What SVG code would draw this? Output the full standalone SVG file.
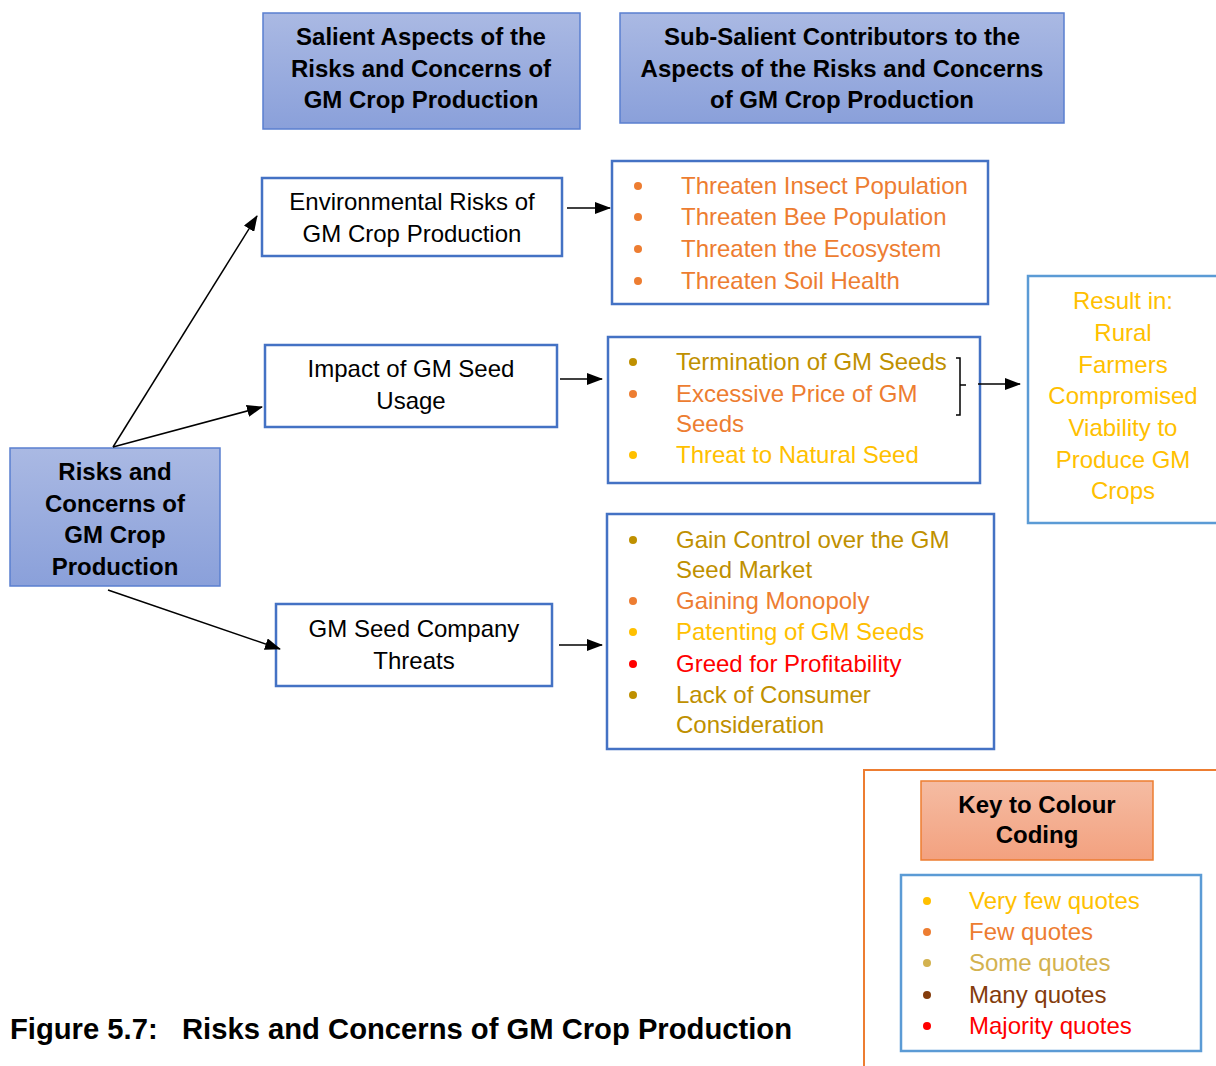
<svg xmlns="http://www.w3.org/2000/svg" width="1216" height="1066" viewBox="0 0 1216 1066">
  <defs>
    <linearGradient id="blueFill" x1="0" y1="0" x2="0" y2="1">
      <stop offset="0" stop-color="#aab9e3"/>
      <stop offset="1" stop-color="#8aa0da"/>
    </linearGradient>
    <linearGradient id="salmonFill" x1="0" y1="0" x2="0" y2="1">
      <stop offset="0" stop-color="#f5bca3"/>
      <stop offset="1" stop-color="#f3a17f"/>
    </linearGradient>
    <marker id="arrow" markerWidth="16" markerHeight="12" refX="15" refY="6" orient="auto" markerUnits="userSpaceOnUse">
      <path d="M0,0 L16,6 L0,12 Z" fill="#000"/>
    </marker>
  </defs>
  <style>
    text { font-family: "Liberation Sans", Arial, sans-serif; font-size: 24px; dominant-baseline: central; }
    .bold { font-weight: bold; }
    .mid { text-anchor: middle; }
    .caption { font-size: 30px; }
    .hdr { fill: url(#blueFill); stroke: #5a7fcf; stroke-width: 1.5; }
    .node { fill: #fff; stroke: #4472c4; stroke-width: 2.5; }
    .light { fill: #fff; stroke: #5b9bd5; stroke-width: 2.5; }
    .conn { stroke: #000; stroke-width: 1.5; fill: none; }
    .gold { fill: #bf9000; }
    .orange { fill: #ed7d31; }
    .yellow { fill: #ffc000; }
    .red { fill: #ff0000; }
    .sand { fill: #d3b24f; }
    .brown { fill: #843c0c; }
  </style>

  <rect width="1216" height="1066" fill="#fff"/>

  <!-- column headers -->
  <g id="header-aspects">
    <rect class="hdr" x="263" y="13" width="317" height="116"/>
    <text class="bold mid" x="421" y="36">Salient Aspects of the</text>
    <text class="bold mid" x="421" y="68">Risks and Concerns of</text>
    <text class="bold mid" x="421" y="99">GM Crop Production</text>
  </g>
  <g id="header-contributors">
    <rect class="hdr" x="620" y="13" width="444" height="110"/>
    <text class="bold mid" x="842" y="36">Sub-Salient Contributors to the</text>
    <text class="bold mid" x="842" y="68">Aspects of the Risks and Concerns</text>
    <text class="bold mid" x="842" y="99">of GM Crop Production</text>
  </g>

  <!-- root node -->
  <g id="risks-root">
    <rect class="hdr" x="10" y="448" width="210" height="138"/>
    <text class="bold mid" x="115" y="471">Risks and</text>
    <text class="bold mid" x="115" y="503">Concerns of</text>
    <text class="bold mid" x="115" y="534">GM Crop</text>
    <text class="bold mid" x="115" y="566">Production</text>
  </g>

  <!-- salient aspects -->
  <g id="environmental-risks">
    <rect class="node" x="262" y="178" width="300" height="78"/>
    <text class="mid" x="412" y="201">Environmental Risks of</text>
    <text class="mid" x="412" y="233">GM Crop Production</text>
  </g>
  <g id="seed-usage">
    <rect class="node" x="265" y="345" width="292" height="82"/>
    <text class="mid" x="411" y="368">Impact of GM Seed</text>
    <text class="mid" x="411" y="400">Usage</text>
  </g>
  <g id="company-threats">
    <rect class="node" x="276" y="604" width="276" height="82"/>
    <text class="mid" x="414" y="628">GM Seed Company</text>
    <text class="mid" x="414" y="660">Threats</text>
  </g>

  <!-- sub-salient contributors -->
  <g id="environmental-list">
    <rect class="node" x="612" y="161" width="376" height="143"/>
    <circle class="orange" cx="638" cy="186" r="4"/>
    <text class="orange" x="681" y="185">Threaten Insect Population</text>
    <circle class="orange" cx="638" cy="217" r="4"/>
    <text class="orange" x="681" y="216">Threaten Bee Population</text>
    <circle class="orange" cx="638" cy="249" r="4"/>
    <text class="orange" x="681" y="248">Threaten the Ecosystem</text>
    <circle class="orange" cx="638" cy="281" r="4"/>
    <text class="orange" x="681" y="280">Threaten Soil Health</text>
  </g>
  <g id="usage-list">
    <rect class="node" x="608" y="337" width="372" height="146"/>
    <circle class="gold" cx="633" cy="362" r="4"/>
    <text class="gold" x="676" y="361">Termination of GM Seeds</text>
    <circle class="orange" cx="633" cy="394" r="4"/>
    <text class="orange" x="676" y="393">Excessive Price of GM</text>
    <text class="orange" x="676" y="423">Seeds</text>
    <circle class="yellow" cx="633" cy="455" r="4"/>
    <text class="yellow" x="676" y="454">Threat to Natural Seed</text>
  </g>
  <g id="company-list">
    <rect class="node" x="607" y="514" width="387" height="235"/>
    <circle class="gold" cx="633" cy="540" r="4"/>
    <text class="gold" x="676" y="539">Gain Control over the GM</text>
    <text class="gold" x="676" y="569">Seed Market</text>
    <circle class="orange" cx="633" cy="601" r="4"/>
    <text class="orange" x="676" y="600">Gaining Monopoly</text>
    <circle class="yellow" cx="633" cy="632" r="4"/>
    <text class="yellow" x="676" y="631">Patenting of GM Seeds</text>
    <circle class="red" cx="633" cy="664" r="4"/>
    <text class="red" x="676" y="663">Greed for Profitability</text>
    <circle class="gold" cx="633" cy="695" r="4"/>
    <text class="gold" x="676" y="694">Lack of Consumer</text>
    <text class="gold" x="676" y="724">Consideration</text>
  </g>

  <!-- outcome -->
  <g id="result">
    <rect class="light" x="1028" y="276" width="200" height="247"/>
    <text class="yellow mid" x="1123" y="300">Result in:</text>
    <text class="yellow mid" x="1123" y="332">Rural</text>
    <text class="yellow mid" x="1123" y="364">Farmers</text>
    <text class="yellow mid" x="1123" y="395">Compromised</text>
    <text class="yellow mid" x="1123" y="427">Viability to</text>
    <text class="yellow mid" x="1123" y="459">Produce GM</text>
    <text class="yellow mid" x="1123" y="490">Crops</text>
  </g>

  <!-- connectors -->
  <g id="connectors">
    <line class="conn" x1="113" y1="447" x2="257" y2="216" marker-end="url(#arrow)"/>
    <line class="conn" x1="113" y1="447" x2="262" y2="407" marker-end="url(#arrow)"/>
    <line class="conn" x1="108" y1="590" x2="280" y2="649" marker-end="url(#arrow)"/>
    <line class="conn" x1="567" y1="208" x2="610" y2="208" marker-end="url(#arrow)"/>
    <line class="conn" x1="560" y1="379" x2="602" y2="379" marker-end="url(#arrow)"/>
    <line class="conn" x1="559" y1="645" x2="602" y2="645" marker-end="url(#arrow)"/>
    <path class="conn" d="M956,358 H960 V415 H956 M960,385 H966" stroke-width="1.2"/>
    <line class="conn" x1="978" y1="384" x2="1020" y2="384" marker-end="url(#arrow)"/>
  </g>

  <!-- colour key -->
  <g id="colour-key">
    <path d="M864,1066 V770 H1216" fill="none" stroke="#ed7d31" stroke-width="2"/>
    <rect x="921" y="781" width="232" height="79" fill="url(#salmonFill)" stroke="#ed7d31" stroke-width="1.5"/>
    <text class="bold mid" x="1037" y="804">Key to Colour</text>
    <text class="bold mid" x="1037" y="834">Coding</text>
    <rect class="light" x="901" y="875" width="300" height="176"/>
    <circle class="yellow" cx="927" cy="901" r="4"/>
    <text class="yellow" x="969" y="900">Very few quotes</text>
    <circle class="orange" cx="927" cy="932" r="4"/>
    <text class="orange" x="969" y="931">Few quotes</text>
    <circle class="sand" cx="927" cy="963" r="4"/>
    <text class="sand" x="969" y="962">Some quotes</text>
    <circle class="brown" cx="927" cy="995" r="4"/>
    <text class="brown" x="969" y="994">Many quotes</text>
    <circle class="red" cx="927" cy="1026" r="4"/>
    <text class="red" x="969" y="1025">Majority quotes</text>
  </g>

  <!-- caption -->
  <text class="bold caption" x="10" y="1028" textLength="782" lengthAdjust="spacingAndGlyphs" xml:space="preserve">Figure 5.7:   Risks and Concerns of GM Crop Production</text>
</svg>
